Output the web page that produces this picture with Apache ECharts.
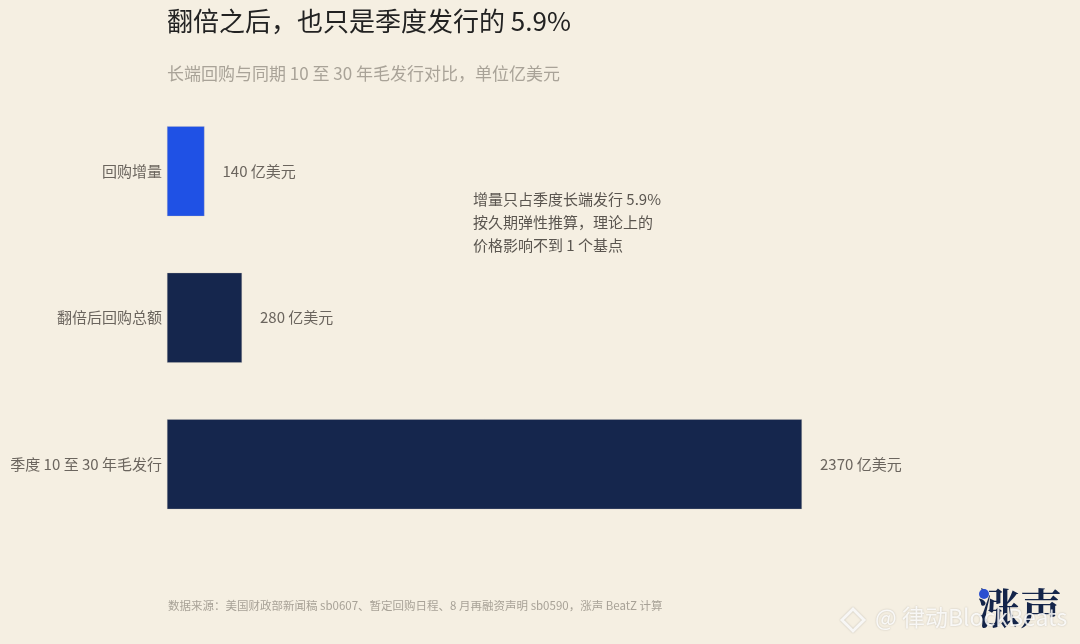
<!DOCTYPE html>
<html>
<head>
	<meta charset="utf-8">
	<title>翻倍之后，也只是季度发行的 5.9%</title>
	<script src="https://cdn.jsdelivr.net/npm/echarts@6/dist/echarts.min.js"></script>
	<style>
		html, body { margin: 0; padding: 0; background: #f5efe2; }
		#chart { width: 1080px; height: 644px; }
	</style>
</head>
<body>
	<div id="chart"></div>
	<script>
		// 数据：单位亿美元
		var categories = ["回购增量", "翻倍后回购总额", "季度 10 至 30 年毛发行"]
		var values = [140, 280, 2370]
		var barColors = ["#1f51e5", "#15264d", "#15264d"]
		var unit = " 亿美元"

		var noteLines = ["增量只占季度长端发行 5.9%", "按久期弹性推算，理论上的", "价格影响不到 1 个基点"]
		var sourceText = "数据来源：美国财政部新闻稿 sb0607、暂定回购日程、8 月再融资声明 sb0590，涨声 BeatZ 计算"

		var font = "'Noto Sans CJK SC', 'Noto Sans', sans-serif"

		var barData = values.map(function (v, i) {
			return { value: v, itemStyle: { color: barColors[i] } }
		})

		var mCharts = echarts.init(document.getElementById("chart"))

		var opt = {
			backgroundColor: "#f5efe2",
			animation: false,
			textStyle: { fontFamily: font },
			title: [
				{
					text: "翻倍之后，也只是季度发行的 5.9%",
					left: 167, top: 8, padding: 0,
					textStyle: { fontSize: 26, fontWeight: "normal", color: "#222222", fontFamily: font }
				},
				{
					text: "长端回购与同期 10 至 30 年毛发行对比，单位亿美元",
					left: 167, top: 65, padding: 0,
					textStyle: { fontSize: 17, fontWeight: "normal", color: "#a9a398", fontFamily: font }
				}
			],
			grid: { left: 167, top: 98, width: 696.6, height: 439.5, containLabel: false },
			xAxis: {
				type: "value",
				min: 0, max: 2600,
				show: false
			},
			yAxis: {
				type: "category",
				data: categories,
				inverse: true,
				axisLine: { show: false },
				axisTick: { show: false },
				splitLine: { show: false },
				axisLabel: { color: "#6b655e", fontSize: 15, margin: 5, fontFamily: font }
			},
			series: [
				{
					type: "bar",
					data: barData,
					barWidth: "61.5%",
					itemStyle: { borderColor: "rgba(200,195,185,0.6)", borderWidth: 0.5 },
					label: {
						show: true,
						position: "right",
						distance: 18,
						color: "#6b655e",
						fontSize: 15,
						fontFamily: font,
						formatter: function (p) { return p.value + unit }
					}
				}
			],
			graphic: [
				{
					type: "text", left: 473, top: 188,
					style: {
						text: noteLines.join("\n"),
						fill: "#5a554f", font: "15px " + font, lineHeight: 23
					}
				},
				{
					type: "text", left: 168, top: 600,
					style: { text: sourceText, fill: "#a8a297", font: "11.5px " + font }
				},
				{
					type: "text", left: 978, top: 587,
					style: { text: "涨声", fill: "#14254a", font: "bold 42px 'Noto Serif CJK SC', 'DejaVu Serif', serif" }
				},
				{
					type: "circle", shape: { cx: 984, cy: 594, r: 5 },
					style: { fill: "#2a4fd0" }
				},
				{
					type: "text", left: 875, top: 606,
					style: {
						text: "@ 律动BlockBeats",
						fill: "rgba(255,255,255,0.85)", font: "23px " + font,
						textShadowColor: "rgba(0,0,0,0.25)", textShadowBlur: 2
					}
				},
				{
					type: "polygon",
					shape: { points: [[853, 609], [864, 620], [853, 631], [842, 620]] },
					style: { fill: "none", stroke: "rgba(255,255,255,0.85)", lineWidth: 3, shadowColor: "rgba(0,0,0,0.25)", shadowBlur: 2 }
				}
			]
		}

		mCharts.setOption(opt)
	</script>
</body>
</html>
